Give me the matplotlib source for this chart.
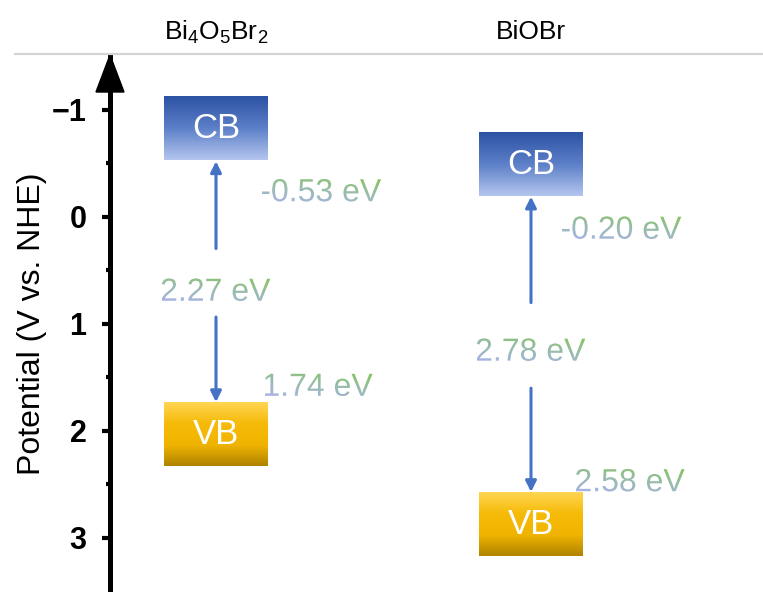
import numpy as np
import matplotlib
matplotlib.use('Agg')
import matplotlib.pyplot as plt
from matplotlib.colors import LinearSegmentedColormap
from matplotlib.textpath import TextPath
from matplotlib.font_manager import FontProperties
from matplotlib.patches import PathPatch, Polygon
from matplotlib.transforms import Affine2D, blended_transform_factory

plt.rcParams['font.family'] = ['Liberation Sans', 'DejaVu Sans']

# band edges (V vs. NHE)
materials = [r'Bi$\mathregular{_4}$O$\mathregular{_5}$Br$\mathregular{_2}$', 'BiOBr']
cb_edge = [-0.53, -0.20]
vb_edge = [1.74, 2.58]
band_gap = [2.27, 2.78]
cb_labels = ['-0.53 eV', '-0.20 eV']
vb_labels = ['1.74 eV', '2.58 eV']
gap_labels = ['2.27 eV', '2.78 eV']

box_h = 0.59
box_w = 0.327

W, H = 763, 592
fig = plt.figure(figsize=(W / 100, H / 100), dpi=100)
ax = fig.add_axes([110 / W, 0, 1 - 110 / W, (H - 55) / H])

for s in ['top', 'right', 'bottom']:
    ax.spines[s].set_visible(False)
ax.spines['left'].set_linewidth(3.6)
ax.set_xticks([])
ax.set_yticks([-1, 0, 1, 2, 3])
ax.set_yticks([-0.5, 0.5, 1.5, 2.5], minor=True)
ax.tick_params(axis='y', which='major', length=6, width=3, labelsize=22, pad=11)
ax.tick_params(axis='y', which='minor', length=3, width=3)
ax.set_yticklabels(['\u22121', '0', '1', '2', '3'], fontweight='bold')
ax.set_ylabel('Potential (V vs. NHE)', fontsize=23, labelpad=3)

# arrow head on top of the axis
head = Polygon([[96 / W, (H - 92) / H], [124 / W, (H - 92) / H], [110 / W, (H - 55) / H]],
               closed=True, transform=fig.transFigure, color='black', clip_on=False)
fig.patches.append(head)

# gray separator and column titles
fig.add_artist(plt.Line2D([15 / W, 1], [(H - 54) / H] * 2, color='#d4d4d4', lw=1.6))
tt = blended_transform_factory(ax.transData, fig.transFigure)
for i, name in enumerate(materials):
    ax.text(i, (H - 32) / H, name, transform=tt, ha='center', va='center',
            fontsize=19, clip_on=False)

cb_cmap = LinearSegmentedColormap.from_list('cb', ['#2c52a3', '#5c7fc8', '#b4c6ee'])
vb_cmap = LinearSegmentedColormap.from_list('vb', ['#ffd553', '#f6bb08', '#f0b400', '#b08300'])
grad = np.linspace(0, 1, 200).reshape(-1, 1)

for i in range(len(materials)):
    x0, x1 = i - box_w / 2, i + box_w / 2
    # conduction band box, bottom edge at the CB potential
    ax.imshow(grad, cmap=cb_cmap, aspect='auto',
              extent=[x0, x1, cb_edge[i] - box_h, cb_edge[i]], origin='lower', zorder=2)
    ax.text(i, cb_edge[i] - box_h / 2, 'CB', color='white', fontsize=25,
            ha='center', va='center', zorder=3)
    # valence band box, top edge at the VB potential
    ax.imshow(grad, cmap=vb_cmap, aspect='auto',
              extent=[x0, x1, vb_edge[i] + box_h, vb_edge[i]], origin='upper', zorder=2)
    ax.text(i, vb_edge[i] + box_h / 2, 'VB', color='white', fontsize=25,
            ha='center', va='center', zorder=3)

ax.set_ylim(3.505, -1.514)
ax.set_xlim(-0.3365, 1.7365)

# gap arrows
mid = [(c + v) / 2 for c, v in zip(cb_edge, vb_edge)]
gap_half = [0.33, 0.41]
for i in range(len(materials)):
    ax.annotate('', xy=(i, cb_edge[i] + 0.01), xytext=(i, mid[i] - gap_half[i] + 0.02),
                arrowprops=dict(arrowstyle='-|>', color='#4472c4', lw=2.2,
                                mutation_scale=16, shrinkA=0, shrinkB=0))
    ax.annotate('', xy=(i, vb_edge[i] - 0.01), xytext=(i, mid[i] + gap_half[i]),
                arrowprops=dict(arrowstyle='-|>', color='#4472c4', lw=2.2,
                                mutation_scale=16, shrinkA=0, shrinkB=0))

# text labels with a green-to-blue gradient fill
over = fig.add_axes([0, 0, 1, 1], zorder=5)
over.set_xlim(0, W)
over.set_ylim(0, H)
over.axis('off')
over.patch.set_alpha(0)
txt_cmap = LinearSegmentedColormap.from_list('txt', ['#a8b2e6', '#98bcae', '#86c45c'])
tgrad = (2 * np.linspace(0, 1, 60)[:, None] + np.linspace(0, 1, 200)[None, :]) / 3
fp = FontProperties(family='Liberation Sans')
size_px = 32


def grad_text(x, y, s, ha='left'):
    tp = TextPath((0, 0), s, size=size_px, prop=fp)
    bb = tp.get_extents()
    dx = x - (bb.x0 + bb.width / 2 if ha == 'center' else bb.x0)
    dy = y - (bb.y0 + bb.height / 2)
    tr = Affine2D().translate(dx, dy) + over.transData
    patch = PathPatch(tp, transform=tr, facecolor='none', edgecolor='none')
    over.add_patch(patch)
    im = over.imshow(tgrad, cmap=txt_cmap, aspect='auto', origin='lower',
                     extent=[bb.x0 + dx, bb.x1 + dx, bb.y0 + dy, bb.y1 + dy])
    im.set_clip_path(patch)


def to_px(x, v):
    return ax.transData.transform((x, v))


gap_off = [0.075, 0.05]
cb_off = [(0.145, 0.28), (0.098, 0.30)]
vb_off = [(0.155, -0.17), (0.143, -0.12)]
for i in range(len(materials)):
    px, py = to_px(i, mid[i] + gap_off[i])
    grad_text(px, py, gap_labels[i], ha='center')
    cx, cy = to_px(i + cb_off[i][0], cb_edge[i] + cb_off[i][1])
    grad_text(cx, cy, cb_labels[i])
    vx, vy = to_px(i + vb_off[i][0], vb_edge[i] + vb_off[i][1])
    grad_text(vx, vy, vb_labels[i])
over.set_xlim(0, W)
over.set_ylim(0, H)

fig.savefig('out.png', dpi=100)
